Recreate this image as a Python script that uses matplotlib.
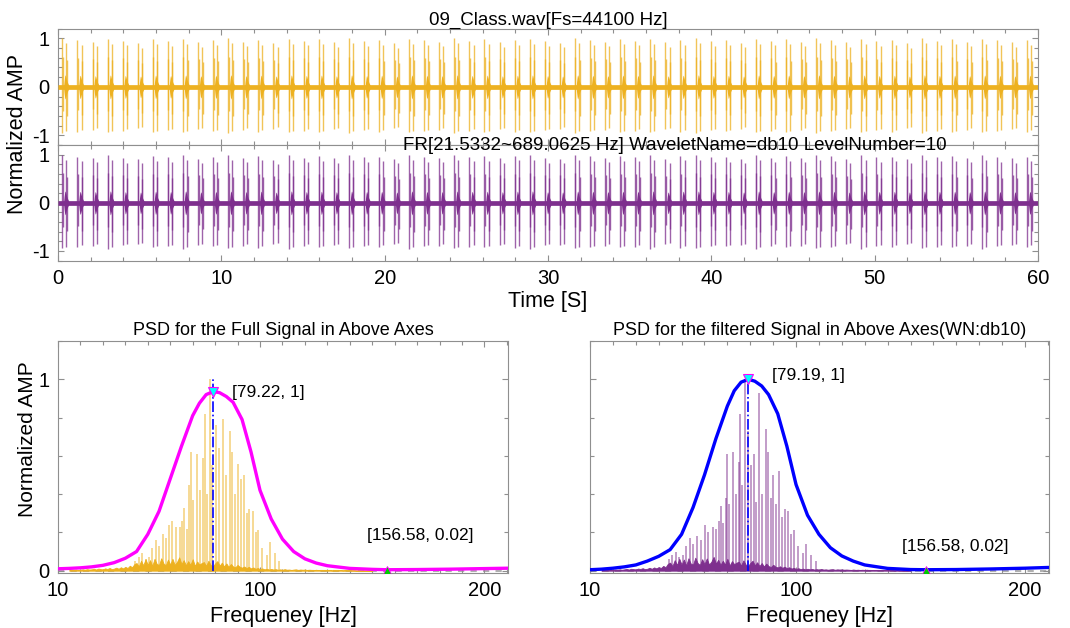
import numpy as np
import matplotlib.pyplot as plt
from matplotlib.ticker import MultipleLocator, FixedLocator

plt.rcParams['font.family'] = ['Liberation Sans', 'DejaVu Sans']
plt.rcParams['axes.unicode_minus'] = False

# ---- time signal (60 s clip, one click pattern per beat) ----
t_start, t_end = 0.0, 60.0
beat_t = [0.43, 1.35, 2.28, 3.20, 4.12, 5.05, 5.97, 6.89, 7.81, 8.74,
          9.66, 10.58, 11.51, 12.43, 13.35, 14.28, 15.20, 16.12, 17.04, 17.97,
          18.89, 19.81, 20.74, 21.66, 22.58, 23.51, 24.43, 25.35, 26.27, 27.20,
          28.12, 29.04, 29.97, 30.89, 31.81, 32.74, 33.66, 34.58, 35.50, 36.43,
          37.35, 38.27, 39.20, 40.12, 41.04, 41.97, 42.89, 43.81, 44.73, 45.66,
          46.58, 47.50, 48.43, 49.35, 50.27, 51.20, 52.12, 53.04, 53.96, 54.89,
          55.81, 56.73, 57.66, 58.58, 59.50]
gain_full = [1.00, 0.97, 0.93, 0.99, 0.95, 0.90, 0.98, 0.94, 0.99, 0.92,
             0.96, 1.00, 0.93, 0.97, 0.91, 0.99, 0.95, 0.98, 0.92, 1.00,
             0.94, 0.97, 0.90, 0.99, 0.96, 0.93, 1.00, 0.95, 0.98, 0.92,
             0.97, 0.99, 0.94, 0.91, 1.00, 0.96, 0.93, 0.98, 0.95, 0.99,
             0.92, 0.97, 1.00, 0.94, 0.96, 0.91, 0.99, 0.95, 0.98, 0.93,
             1.00, 0.96, 0.92, 0.99, 0.94, 0.97, 0.90, 1.00, 0.95, 0.98,
             0.93, 0.99, 0.96, 0.92, 0.97]
gain_filt = [0.99, 0.96, 0.94, 1.00, 0.93, 0.91, 0.97, 0.95, 1.00, 0.92,
             0.95, 0.99, 0.94, 0.98, 0.90, 1.00, 0.94, 0.97, 0.93, 0.99,
             0.95, 0.96, 0.91, 1.00, 0.95, 0.94, 0.99, 0.96, 0.97, 0.93,
             0.98, 1.00, 0.93, 0.92, 0.99, 0.97, 0.94, 0.97, 0.96, 1.00,
             0.91, 0.98, 0.99, 0.95, 0.95, 0.92, 1.00, 0.94, 0.97, 0.94,
             0.99, 0.97, 0.91, 1.00, 0.95, 0.96, 0.91, 0.99, 0.96, 0.97,
             0.94, 1.00, 0.95, 0.93, 0.96]
# clicks around each beat (offset in s, positive / negative peak)
spike_off = [-0.16, -0.13, 0.09, 0.12]
spike_up = [1.00, 0.62, 0.90, 0.55]
spike_dn = [-0.95, -0.50, -0.92, -0.60]
# low-level burst at each beat
blob_off = [-0.08, -0.05, -0.02, 0.0, 0.03, 0.06, 0.10, 0.14, 0.18, 0.22]
blob_amp = [0.04, 0.14, 0.22, 0.25, 0.23, 0.19, 0.14, 0.10, 0.07, 0.04]

# ---- PSD panels ----
curve_f = [10, 15, 20, 25, 30, 35, 40, 45, 50, 55, 60, 65, 70, 73, 76, 79.2,
           82, 85, 88, 92, 96, 100, 105, 110, 115, 120, 125, 130, 140, 150,
           156.58, 170, 185, 200, 210.5]
curve_full = [0.010, 0.012, 0.015, 0.020, 0.028, 0.042, 0.065, 0.10, 0.19, 0.31,
              0.48, 0.65, 0.81, 0.875, 0.92, 0.936, 0.93, 0.91, 0.88, 0.79,
              0.62, 0.42, 0.27, 0.165, 0.10, 0.062, 0.040, 0.026, 0.012, 0.007,
              0.005, 0.006, 0.008, 0.011, 0.013]
curve_filt = [0.005, 0.008, 0.013, 0.020, 0.030, 0.050, 0.075, 0.11, 0.19, 0.33,
              0.50, 0.69, 0.86, 0.94, 0.985, 1.00, 0.99, 0.965, 0.92, 0.82,
              0.65, 0.45, 0.29, 0.19, 0.12, 0.077, 0.050, 0.030, 0.012, 0.006,
              0.005, 0.006, 0.009, 0.013, 0.017]

psd_full_f = [44.5, 46.0, 47.5, 49.0, 50.5, 52.0, 53.5, 55.2, 56.8, 58.3,
              59.6, 60.6, 62.6, 64.3, 65.3, 66.3, 67.4, 68.5, 69.3, 70.3,
              71.8, 73.4, 74.6, 75.4, 76.5, 77.9, 78.8, 80.4, 81.9, 83.4,
              84.9, 86.6, 87.5, 89.0, 90.1, 91.5, 93.0, 94.3, 95.3, 96.8,
              98.0, 99.0, 101.0, 103.0, 104.5, 106.5, 108.5]
psd_full_a = [0.05, 0.07, 0.09, 0.06, 0.07, 0.12, 0.16, 0.13, 0.19, 0.17,
              0.24, 0.26, 0.23, 0.23, 0.26, 0.33, 0.22, 0.45, 0.62, 0.37,
              0.61, 0.42, 0.59, 0.82, 0.40, 1.00, 0.55, 0.76, 0.64, 0.79,
              0.50, 0.73, 0.62, 0.40, 0.56, 0.48, 0.50, 0.30, 0.32, 0.31,
              0.20, 0.21, 0.12, 0.08, 0.15, 0.09, 0.05]
psd_filt_f = [44.5, 46.0, 47.5, 49.0, 50.5, 52.0, 53.5, 55.2, 56.8, 58.3,
              60.3, 61.5, 63.8, 65.0, 66.4, 67.1, 68.2, 69.3, 70.0, 70.8,
              72.5, 73.8, 75.1, 75.5, 76.6, 77.7, 79.0, 80.5, 81.7, 82.7,
              83.8, 85.3, 87.0, 87.9, 89.0, 90.1, 91.1, 92.6, 94.0, 95.2,
              96.7, 98.0, 99.1, 101.0, 103.0, 104.5, 106.5, 108.5]
psd_filt_a = [0.06, 0.08, 0.10, 0.07, 0.08, 0.13, 0.17, 0.14, 0.18, 0.16,
              0.24, 0.20, 0.23, 0.22, 0.26, 0.34, 0.25, 0.38, 0.61, 0.35,
              0.62, 0.40, 0.57, 0.82, 0.45, 1.00, 0.73, 0.55, 0.61, 0.36,
              0.93, 0.40, 0.74, 0.62, 0.38, 0.50, 0.35, 0.52, 0.28, 0.32,
              0.31, 0.19, 0.21, 0.13, 0.09, 0.14, 0.08, 0.05]

# noise floor, 1 Hz bins from 15 to 150 Hz
floor_f = np.arange(15, 151)
floor_full = [0.003, 0.005, 0.004, 0.006, 0.004, 0.005, 0.007, 0.005, 0.008, 0.006,
              0.007, 0.010, 0.006, 0.011, 0.008, 0.007, 0.012, 0.009, 0.014, 0.008,
              0.011, 0.016, 0.010, 0.018, 0.012, 0.020, 0.014, 0.026, 0.018, 0.034,
              0.040, 0.022, 0.052, 0.028, 0.060, 0.030, 0.055, 0.025, 0.062, 0.035,
              0.030, 0.065, 0.038, 0.028, 0.058, 0.032, 0.062, 0.030, 0.045, 0.070,
              0.035, 0.055, 0.028, 0.050, 0.030, 0.060, 0.025, 0.048, 0.032, 0.040,
              0.045, 0.025, 0.052, 0.030, 0.022, 0.038, 0.050, 0.026, 0.042, 0.022,
              0.038, 0.020, 0.035, 0.022, 0.018, 0.030, 0.020, 0.016, 0.022, 0.014,
              0.020, 0.012, 0.017, 0.010, 0.014, 0.008, 0.012, 0.007, 0.010, 0.006,
              0.009, 0.006, 0.008, 0.005, 0.007, 0.005, 0.008, 0.005, 0.006, 0.004,
              0.006, 0.007, 0.004, 0.006, 0.005, 0.006, 0.004, 0.005, 0.004, 0.003,
              0.005, 0.003, 0.004, 0.003, 0.004, 0.003, 0.004, 0.002, 0.003, 0.002,
              0.003, 0.003, 0.002, 0.003, 0.002, 0.003, 0.002, 0.002, 0.001, 0.002,
              0.001, 0.001, 0.001, 0.001, 0.001, 0.001]
floor_filt = [0.002, 0.004, 0.003, 0.005, 0.004, 0.005, 0.006, 0.005, 0.007, 0.005,
              0.007, 0.009, 0.006, 0.010, 0.008, 0.007, 0.011, 0.009, 0.013, 0.008,
              0.010, 0.015, 0.010, 0.017, 0.012, 0.019, 0.014, 0.025, 0.018, 0.036,
              0.042, 0.024, 0.055, 0.030, 0.062, 0.032, 0.058, 0.027, 0.065, 0.037,
              0.032, 0.068, 0.040, 0.030, 0.060, 0.034, 0.064, 0.032, 0.047, 0.072,
              0.037, 0.057, 0.030, 0.052, 0.032, 0.062, 0.027, 0.050, 0.034, 0.042,
              0.047, 0.027, 0.054, 0.032, 0.024, 0.040, 0.052, 0.028, 0.044, 0.024,
              0.040, 0.022, 0.037, 0.024, 0.019, 0.031, 0.021, 0.017, 0.023, 0.015,
              0.021, 0.013, 0.018, 0.011, 0.015, 0.009, 0.013, 0.008, 0.011, 0.007,
              0.010, 0.007, 0.009, 0.006, 0.008, 0.006, 0.009, 0.006, 0.007, 0.005,
              0.007, 0.008, 0.005, 0.007, 0.006, 0.007, 0.005, 0.006, 0.005, 0.004,
              0.006, 0.004, 0.005, 0.004, 0.005, 0.004, 0.005, 0.003, 0.004, 0.003,
              0.004, 0.004, 0.003, 0.004, 0.003, 0.004, 0.003, 0.003, 0.002, 0.003,
              0.002, 0.002, 0.002, 0.002, 0.002, 0.002]

peak_full = (79.22, 0.936)
peak_filt = (79.19, 1.00)
side_pt = (156.58, 0.005)

ORANGE = '#EDB120'
PURPLE = '#7E2F8E'
FRAME = '#8f8f8f'


def style_axes(ax):
    for sp in ax.spines.values():
        sp.set_color(FRAME)
        sp.set_linewidth(0.8)
    ax.tick_params(which='both', direction='in', top=True, right=True,
                   color=FRAME, width=0.8, labelsize=14.5, pad=6)
    ax.tick_params(which='major', length=4.5)
    ax.tick_params(which='minor', length=2.8)


def draw_wave(ax, gains, color):
    xs, lo, hi = [], [], []
    for t, g in zip(beat_t, gains):
        for off, up, dn in zip(spike_off, spike_up, spike_dn):
            xs.append(t + off)
            hi.append(g * up)
            lo.append(g * dn)
        bx = t + np.array(blob_off)
        ba = g * np.array(blob_amp)
        ax.fill_between(bx, -ba, ba, color=color, lw=0, zorder=3)
    ax.vlines(xs, lo, hi, color=color, lw=1.0, alpha=0.75, zorder=2)
    ax.plot([t_start, t_end], [0, 0], color=color, lw=3.4,
            solid_capstyle='butt', zorder=3)
    ax.set_xlim(t_start, t_end)
    ax.set_ylim(-1.2, 1.2)
    ax.xaxis.set_major_locator(MultipleLocator(10))
    ax.xaxis.set_minor_locator(MultipleLocator(2))
    ax.yaxis.set_major_locator(FixedLocator([-1, 0, 1]))
    ax.yaxis.set_minor_locator(MultipleLocator(0.2))
    style_axes(ax)


def draw_psd(ax, sf, sa, floor, curve, curve_color, color, peak, peak_txt,
             peak_pos, side_txt, side_pos):
    ax.plot([10, 210.5], [0, 0], color='#b0b0b0', lw=1.5, ls=(0, (3, 3)), zorder=1)
    ax.fill_between(floor_f, 0, floor, color=color, lw=0.6, zorder=2)
    ax.vlines(sf, 0, sa, color=color, lw=1.1, alpha=0.6, zorder=2)
    ax.plot(curve_f, curve, color=curve_color, lw=2.4, zorder=4)
    ax.plot([peak[0], peak[0]], [0, 1.0], color='#0000FF', lw=1.2,
            ls='-.', zorder=5)
    ax.plot(peak[0], peak[1], marker='v', ms=7, mfc='#00FFFF', mec='#FF00FF',
            mew=0.8, ls='none', zorder=6)
    ax.plot(side_pt[0], side_pt[1], marker='^', ms=6, mfc='#00CC00',
            mec='#FF00FF', mew=0.6, ls='none', zorder=6)
    ax.text(peak_pos[0], peak_pos[1], peak_txt, fontsize=12.5, va='center', ha='left')
    ax.text(side_pos[0], side_pos[1], side_txt, fontsize=12.5, va='center', ha='left')
    ax.set_xlim(10, 210.5)
    ax.set_ylim(-0.012, 1.2)
    ax.xaxis.set_major_locator(FixedLocator([10, 100, 200]))
    ax.xaxis.set_minor_locator(MultipleLocator(10))
    ax.yaxis.set_major_locator(FixedLocator([0, 1]))
    ax.yaxis.set_minor_locator(MultipleLocator(0.2))
    style_axes(ax)
    ax.set_xlabel('Frequeney [Hz]', fontsize=15.5, labelpad=4)


fig = plt.figure(figsize=(10.7, 6.28), dpi=100)
ax1 = fig.add_axes([0.0542, 0.769, 0.9159, 0.1853])
ax2 = fig.add_axes([0.0542, 0.585, 0.9159, 0.184])
ax3 = fig.add_axes([0.0542, 0.0876, 0.4206, 0.3694])
ax4 = fig.add_axes([0.5514, 0.0876, 0.429, 0.3694])

draw_wave(ax1, gain_full, ORANGE)
ax1.tick_params(labelbottom=False)
ax1.set_title('09_Class.wav[Fs=44100 Hz]', fontsize=13.5, pad=3)

draw_wave(ax2, gain_filt, PURPLE)
ax2.text(0.629, 1.0, 'FR[21.5332~689.0625 Hz] WaveletName=db10 LevelNumber=10',
         transform=ax2.transAxes, fontsize=13.5, ha='center', va='center', zorder=10)
ax2.set_xlabel('Time [S]', fontsize=15.5, labelpad=2)
fig.text(0.0164, 0.7866, 'Normalized AMP', rotation=90, fontsize=15.5,
         ha='center', va='center')

draw_psd(ax3, psd_full_f, psd_full_a, floor_full, curve_full, '#FF00FF', ORANGE,
         peak_full, '[79.22, 1]', (87.5, 0.932), '[156.58, 0.02]', (147.5, 0.186))
ax3.set_title('PSD for the Full Signal in Above Axes', fontsize=13, pad=4)
fig.text(0.0255, 0.30, 'Normalized AMP', rotation=90, fontsize=15,
         ha='center', va='center')

draw_psd(ax4, psd_filt_f, psd_filt_a, floor_filt, curve_filt, '#0000FF', PURPLE,
         peak_filt, '[79.19, 1]', (89.6, 1.02), '[156.58, 0.02]', (146.1, 0.125))
ax4.tick_params(labelleft=False)
ax4.set_title('PSD for the filtered Signal in Above Axes(WN:db10)', fontsize=13, pad=4)

fig.savefig('out.png', dpi=100)
